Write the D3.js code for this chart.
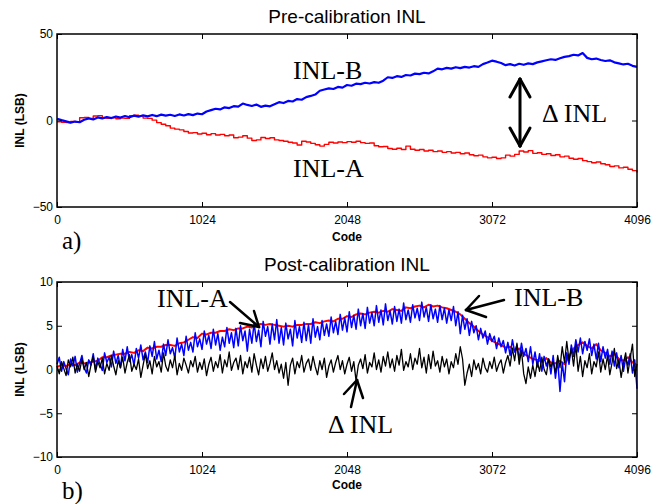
<!DOCTYPE html>
<html>
<head>
<meta charset="utf-8">
<script src="https://cdn.jsdelivr.net/npm/d3@7"></script>
<style>
  html, body { margin: 0; padding: 0; background: #fff; }
  svg { display: block; }
</style>
</head>
<body>
<svg id="chart" width="662" height="504"></svg>
<script>
// ---------- data ----------
const preStep = 32;            // pre-calibration samples every 32 codes
const postStepA = 32;          // post-calibration INL-A every 32 codes
const postStepB = 16;          // post-calibration INL-B / delta every 16 codes
const xTickValues = [0, 1024, 2048, 3072, 4096];
const yTicksPre = [-50, 0, 50];
const yTicksPost = [-10, -5, 0, 5, 10];

// Pre-calibration INL (LSB)
const preInlB = [1.0,0.2,-0.5,-1.2,-0.6,-1.0,0.4,1.2,0.6,1.8,
  1.2,2.0,1.4,2.3,1.7,2.6,1.9,2.8,2.2,3.0,
  2.4,3.2,2.5,3.4,2.8,3.3,2.6,3.5,2.9,3.7,
  3.1,4.0,3.6,5.2,6.0,6.8,6.4,7.6,7.2,8.3,
  8.0,9.8,9.0,8.4,9.2,7.9,8.6,8.2,9.4,10.6,
  10.1,11.3,11.0,12.4,12.0,13.5,14.2,15.0,17.2,17.9,
  18.6,18.2,19.4,19.0,20.5,20.1,21.3,21.0,21.8,21.4,
  22.2,21.8,23.0,25.0,24.6,25.6,25.2,26.3,26.0,27.1,
  26.8,27.6,27.2,28.4,30.0,29.6,30.4,30.0,30.8,30.3,
  31.0,30.6,31.4,31.0,32.6,33.5,34.6,34.0,33.2,32.0,
  32.6,31.8,32.8,32.2,33.0,32.6,33.6,34.2,34.8,35.4,
  35.0,36.0,36.8,37.2,38.0,37.6,39.0,36.2,35.4,35.8,
  35.0,34.4,34.8,33.6,33.0,32.4,32.8,31.6,31.0];

const preInlA = [-0.8,-1.0,-1.2,-0.6,-0.8,1.6,1.8,1.2,2.6,2.8,
  1.4,1.2,1.6,1.0,1.4,1.2,2.8,3.0,2.6,1.4,
  1.2,0.2,-1.2,-2.2,-3.0,-4.4,-5.0,-5.4,-6.4,-7.2,
  -7.0,-7.8,-7.4,-8.2,-7.6,-8.4,-8.0,-8.8,-8.4,-10.0,
  -9.6,-8.8,-10.2,-11.6,-11.2,-9.8,-10.4,-10.0,-11.2,-11.6,
  -12.0,-12.6,-13.0,-14.2,-12.0,-12.4,-13.2,-14.0,-14.8,-13.8,
  -12.6,-13.0,-12.4,-12.8,-12.2,-12.6,-12.0,-12.8,-13.2,-13.0,
  -14.6,-15.2,-15.0,-16.2,-16.6,-16.0,-16.8,-14.8,-16.6,-17.2,
  -16.8,-17.6,-17.2,-18.0,-17.6,-18.4,-18.0,-18.8,-18.4,-19.2,
  -18.8,-19.8,-20.4,-20.0,-21.0,-21.6,-21.2,-22.0,-21.6,-20.0,
  -20.6,-19.6,-17.6,-18.2,-17.4,-19.0,-18.6,-19.6,-19.2,-20.2,
  -19.8,-21.0,-20.6,-21.8,-22.4,-22.0,-23.2,-23.8,-24.4,-24.0,
  -25.0,-25.6,-26.6,-26.2,-27.4,-27.0,-28.2,-29.0,-30.0];

// Post-calibration INL (LSB)
const postInlA = [0.3,0.5,0.4,0.6,0.5,0.8,0.7,0.8,0.9,1.0,
  1.4,1.4,1.6,1.7,1.8,1.8,2.0,1.9,2.2,2.1,
  2.5,2.4,2.6,2.6,2.8,2.8,2.7,3.0,3.1,3.4,
  3.7,3.6,4.1,4.0,4.2,4.2,4.4,4.4,4.6,4.5,
  4.7,4.7,4.9,4.8,5.1,5.2,5.1,5.2,5.1,5.0,
  4.9,5.0,4.9,5.1,5.1,5.2,5.2,5.4,5.3,5.5,
  5.6,5.5,5.8,5.8,6.1,6.0,6.3,6.4,6.3,6.5,
  6.6,6.5,6.7,6.6,6.9,6.8,6.7,7.1,7.0,7.2,
  7.3,7.1,7.4,7.2,7.3,7.1,7.0,6.8,6.6,6.3,
  5.8,5.3,4.9,4.4,4.0,3.7,3.3,3.0,2.8,2.5,
  2.6,2.2,2.4,1.8,1.5,1.2,1.1,0.9,1.3,0.8,
  0.7,1.0,0.6,1.5,2.4,2.8,3.1,2.7,2.4,2.9,
  2.2,1.9,1.5,1.8,1.2,1.0,1.4,0.8,0.5];

const postInlB = [0.6,1.4,-0.2,0.9,0.1,-0.6,1.2,0.4,1.5,-0.3,
  0.7,1.6,0.2,-0.4,1.1,0.5,1.8,0.0,1.3,0.6,
  -0.1,1.9,0.8,1.4,0.3,2.1,0.7,1.6,0.2,2.3,
  1.0,2.6,0.9,1.7,0.5,2.4,1.3,2.8,1.1,2.0,
  0.8,2.7,1.5,3.2,1.2,2.2,0.9,2.9,1.6,3.4,
  1.8,2.5,1.3,3.6,2.0,2.9,1.6,3.8,2.2,3.1,
  2.0,4.2,2.6,3.5,2.3,4.4,2.9,3.9,2.4,4.6,
  2.8,4.1,2.2,3.7,2.6,4.8,3.0,4.2,2.5,4.7,
  2.7,5.0,3.3,4.4,2.1,4.6,3.0,5.3,3.2,4.5,
  2.6,5.5,3.8,4.9,2.9,5.2,3.4,5.7,3.0,4.8,
  2.8,5.3,3.5,4.6,2.7,5.6,3.6,4.9,3.1,5.4,
  3.3,5.1,3.0,5.8,3.7,4.9,3.4,5.6,3.9,5.2,
  3.8,6.0,4.2,5.5,4.0,6.3,4.5,5.9,4.3,6.6,
  4.8,6.2,4.6,6.9,5.0,6.4,4.7,7.1,5.3,6.5,
  5.0,7.3,5.4,6.8,5.1,7.5,5.6,6.7,5.2,7.2,
  5.5,6.9,5.3,7.6,5.7,6.8,5.4,7.4,5.9,7.0,
  5.6,7.7,6.0,7.1,5.5,7.4,5.8,6.9,5.4,7.3,
  5.7,7.0,5.3,6.8,5.6,7.2,5.0,6.6,4.1,6.2,
  4.6,5.8,3.9,5.5,4.2,5.0,3.4,4.7,3.6,4.4,
  2.9,4.1,3.2,3.8,2.4,3.6,2.6,3.3,1.9,3.1,
  1.6,3.4,2.0,2.8,1.2,3.0,1.5,2.4,0.9,2.6,
  0.6,2.0,0.3,1.8,-0.2,1.5,0.4,1.2,-0.5,1.6,
  -1.0,1.1,-2.5,0.8,-1.4,1.9,0.6,2.8,1.5,3.4,
  2.0,3.6,1.8,3.2,2.2,3.5,1.6,2.9,1.2,3.0,
  0.9,2.6,1.3,2.3,0.6,2.1,0.4,1.9,0.2,1.6,
  -0.2,1.3,0.5,1.8,-0.4,1.1,-2.2];

const postDeltaInl = [0.4,-0.5,0.9,0.1,-0.7,1.1,0.3,1.4,-0.4,0.6,
  -0.2,1.2,0.0,0.8,-0.8,0.5,1.5,-0.3,0.9,0.2,
  1.3,-0.5,0.7,-0.1,1.6,0.4,-0.6,1.0,0.2,1.4,
  -0.4,0.8,1.7,-0.2,0.6,0.0,1.2,-0.9,0.5,1.8,
  0.1,1.0,-0.5,1.5,0.3,0.9,-0.3,1.9,0.4,-0.2,
  1.1,0.2,1.6,-0.6,0.7,-0.1,1.3,0.5,-0.4,1.0,
  0.3,1.5,-0.3,0.8,0.0,1.2,-0.7,0.6,1.4,-0.2,
  0.9,0.2,1.7,-0.4,1.1,0.3,2.0,-0.1,0.8,1.3,
  0.0,1.6,-0.5,0.9,0.2,1.4,-0.3,1.8,0.5,-0.6,
  1.2,0.1,1.5,-0.2,0.7,1.9,0.0,1.0,-0.4,0.6,
  -1.0,0.8,-1.8,0.5,1.3,-0.5,0.9,0.2,1.6,-0.3,
  0.7,1.2,-0.1,1.5,0.3,-0.6,1.0,0.0,1.3,-0.9,
  0.4,1.1,-0.3,0.8,1.6,0.0,1.0,-0.5,0.6,1.4,
  -0.2,0.9,-1.3,0.5,1.2,0.1,1.7,-0.4,0.8,0.3,
  1.9,0.0,1.1,-0.3,1.5,0.4,2.0,0.2,1.2,-0.2,
  1.6,0.5,2.3,-0.1,0.9,0.3,1.8,0.0,1.3,0.6,
  2.4,0.2,1.4,-0.4,1.7,0.1,2.1,0.4,1.0,-0.3,
  1.5,0.3,1.2,-0.5,0.9,0.2,1.8,0.6,2.6,1.2,
  -1.8,-0.4,0.6,-0.8,1.1,0.0,0.7,-0.5,1.3,0.2,
  -0.3,0.9,0.1,1.4,-0.2,0.6,1.1,-0.4,0.8,1.6,
  0.4,2.4,1.0,3.0,0.6,2.2,-0.5,-1.6,0.3,-1.0,
  0.5,-0.8,0.9,-0.2,1.4,0.0,-0.6,1.2,0.3,0.9,
  -0.4,1.6,0.2,2.6,0.8,3.2,1.0,2.4,0.4,2.8,
  -0.2,1.5,-0.8,1.0,0.2,1.8,-0.5,0.9,0.3,2.0,
  -0.3,1.2,0.0,1.6,-0.6,0.8,2.4,0.1,1.1,-0.9,
  0.7,1.9,-0.4,1.3,2.9,-0.8,0.6];

// ---------- drawing ----------
const svg = d3.select("#chart");
const sans = '"Liberation Sans", Arial, sans-serif';
const serif = '"Liberation Serif", "Times New Roman", serif';

function panel(cfg) {
  const { top, bottom, left, right, yDomain, yTicks, title, titleY, codeY, tagY, tag } = cfg;
  const x = d3.scaleLinear().domain([0, 4096]).range([left, right]);
  const y = d3.scaleLinear().domain(yDomain).range([bottom, top]);
  const g = svg.append("g");

  cfg.series.forEach(s => {
    const line = d3.line()
      .x((d, i) => x(i * s.codeStep))
      .y(d => y(d))
      .curve(s.stepCurve ? d3.curveStepAfter : d3.curveLinear);
    g.append("path")
      .datum(s.values)
      .attr("fill", "none")
      .attr("stroke", s.color)
      .attr("stroke-width", s.width)
      .attr("stroke-linejoin", "round")
      .attr("d", line);
  });

  const ax = (a) => a.tickSizeInner(-5).tickSizeOuter(0);
  const gb = g.append("g").attr("transform", `translate(0,${bottom})`)
    .call(ax(d3.axisBottom(x).tickValues(xTickValues).tickFormat(d3.format("d"))).tickPadding(8));
  const gl = g.append("g").attr("transform", `translate(${left},0)`)
    .call(ax(d3.axisLeft(y).tickValues(yTicks).tickFormat(d3.format("d"))).tickPadding(4));
  const gt = g.append("g").attr("transform", `translate(0,${top})`)
    .call(ax(d3.axisTop(x).tickValues(xTickValues).tickFormat("")));
  const gr = g.append("g").attr("transform", `translate(${right},0)`)
    .call(ax(d3.axisRight(y).tickValues(yTicks).tickFormat("")));
  [gb, gl, gt, gr].forEach(a => {
    a.select(".domain").remove();
    a.selectAll("line").attr("stroke", "#000").attr("stroke-width", 1);
  });
  gb.selectAll("text").attr("font-family", sans).attr("font-size", 12).attr("fill", "#000");
  gl.selectAll("text").attr("font-family", sans).attr("font-size", 12).attr("fill", "#000");

  g.append("rect")
    .attr("x", left).attr("y", top)
    .attr("width", right - left).attr("height", bottom - top)
    .attr("fill", "none").attr("stroke", "#000").attr("stroke-width", 1.5);

  g.append("text").attr("x", (left + right) / 2).attr("y", titleY)
    .attr("text-anchor", "middle").attr("font-family", sans).attr("font-size", 19)
    .text(title);
  g.append("text").attr("x", (left + right) / 2).attr("y", codeY)
    .attr("text-anchor", "middle").attr("font-family", sans).attr("font-size", 12)
    .attr("font-weight", "bold").text("Code");
  g.append("text")
    .attr("transform", `translate(24,${(top + bottom) / 2}) rotate(-90)`)
    .attr("text-anchor", "middle").attr("font-family", sans).attr("font-size", 12)
    .attr("font-weight", "bold").text("INL (LSB)");
  g.append("text").attr("x", 62).attr("y", tagY)
    .attr("font-family", serif).attr("font-size", 25).text(tag);

  return { x, y, g };
}

panel({
  top: 34, bottom: 207, left: 57, right: 637,
  yDomain: [-50, 50], yTicks: yTicksPre,
  title: "Pre-calibration INL", titleY: 23, codeY: 241, tagY: 249, tag: "a)",
  series: [
    { values: preInlA, codeStep: preStep, color: "#ff0000", width: 1.4, stepCurve: true },
    { values: preInlB, codeStep: preStep, color: "#0000ff", width: 2.2, stepCurve: false }
  ]
});

panel({
  top: 282, bottom: 457, left: 57, right: 637,
  yDomain: [-10, 10], yTicks: yTicksPost,
  title: "Post-calibration INL", titleY: 271, codeY: 489, tagY: 499, tag: "b)",
  series: [
    { values: postInlA, codeStep: postStepA, color: "#ff0000", width: 2.0, stepCurve: false },
    { values: postInlB, codeStep: postStepB, color: "#0000ff", width: 1.5, stepCurve: false },
    { values: postDeltaInl, codeStep: postStepB, color: "#000000", width: 1.3, stepCurve: false }
  ]
});

function label(txt, xp, yp) {
  svg.append("text").attr("x", xp).attr("y", yp)
    .attr("font-family", serif).attr("font-size", 26).text(txt);
}
function seg(x1, y1, x2, y2, w) {
  svg.append("line").attr("x1", x1).attr("y1", y1).attr("x2", x2).attr("y2", y2)
    .attr("stroke", "#000").attr("stroke-width", w).attr("stroke-linecap", "round");
}
label("INL-B", 293, 79);
label("INL-A", 293, 177);
label("\u0394 INL", 542, 122);
seg(520, 79, 520, 146, 3);
seg(520, 79, 510, 97, 3); seg(520, 79, 530, 97, 3);
seg(520, 146, 510, 128, 3); seg(520, 146, 530, 128, 3);

label("INL-A", 157, 307);
seg(230, 302, 259, 327, 2.5);
seg(259, 327, 240, 323, 2.5); seg(259, 327, 254, 311, 2.5);

label("INL-B", 514, 306);
seg(504, 300, 466, 310, 2.5);
seg(466, 310, 486, 317, 2.5); seg(466, 310, 479, 296, 2.5);

label("\u0394 INL", 328, 433);
seg(351, 407, 357, 380, 2.5);
seg(357, 380, 344, 394, 2.5); seg(357, 380, 363, 398, 2.5);
</script>
</body>
</html>
